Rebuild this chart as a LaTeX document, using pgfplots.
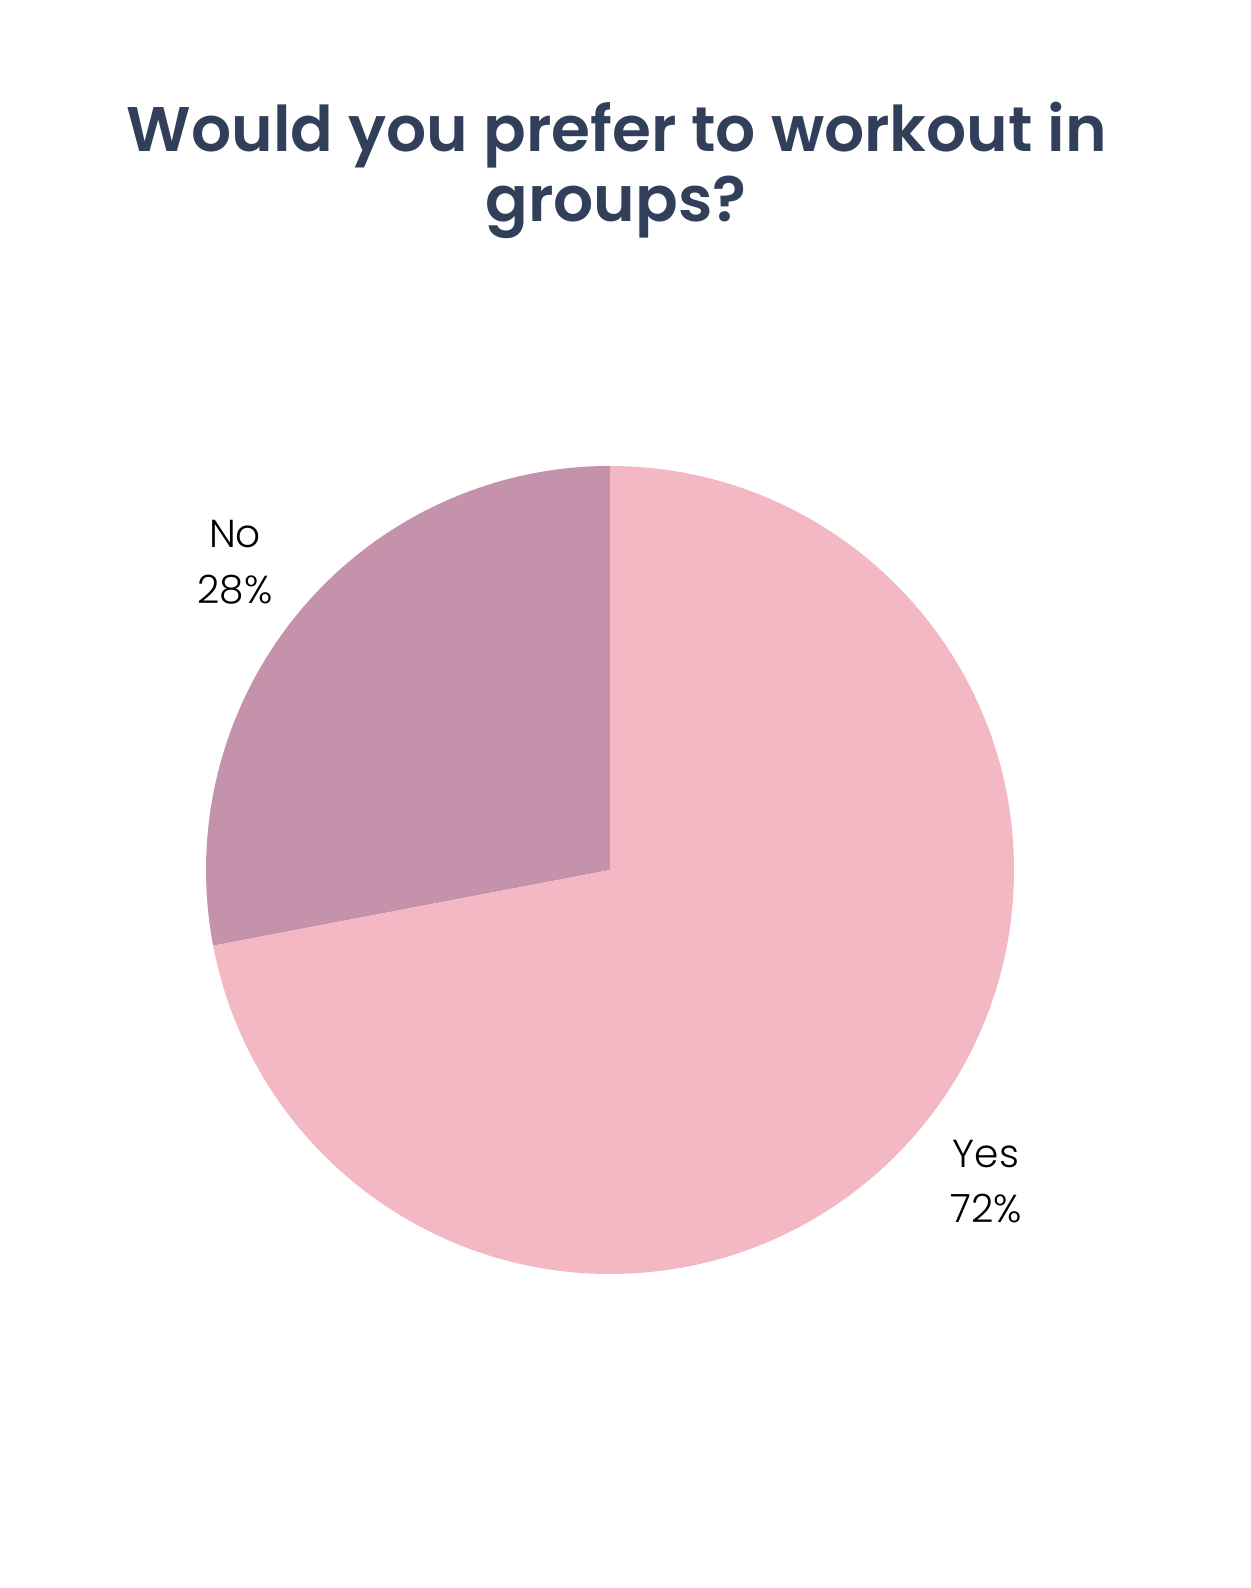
\documentclass[border=0pt]{standalone}
\usepackage{pgfplots}
\pgfplotsset{compat=1.18}
\usepackage{pgfplotstable}
\usepackage{fontspec}
\setmainfont{Poppins}
\newfontfamily\titlefont{Poppins SemiBold}
\newfontfamily\labelfont{Poppins Light}
\definecolor{yescol}{HTML}{F4B8C4}
\definecolor{nocol}{HTML}{C492AB}
\definecolor{titlecol}{HTML}{323F5A}
\pgfplotstableread{
label value
Yes 72
No 28
}\piedata
\begin{document}
\begin{tikzpicture}
\pgfplotstablegetelem{0}{value}\of\piedata \global\let\yesval\pgfplotsretval
\pgfplotstablegetelem{1}{value}\of\piedata \global\let\noval\pgfplotsretval
\pgfmathsetmacro\noend{90+3.6*\noval}
\pgfmathsetmacro\yesend{90-3.6*\yesval}
\begin{axis}[width=625pt,height=794pt,scale only axis,xmin=0,xmax=1250,ymin=0,ymax=1588,hide axis,clip=false]
\fill[white] (axis cs:0,0) rectangle (axis cs:1250,1588);
\fill[nocol] (axis cs:610,718) -- (axis cs:610,1122) arc[start angle=90,end angle=\noend,radius=202pt] -- cycle;
\fill[yescol] (axis cs:610,718) -- (axis cs:610,1122) arc[start angle=90,end angle=\yesend,radius=202pt] -- cycle;
\node[anchor=base,text=titlecol,font=\fontsize{31.5}{38}\titlefont] at (axis cs:617,1436) {Would you prefer to workout in};
\node[anchor=base,text=titlecol,font=\fontsize{31.5}{38}\titlefont] at (axis cs:616,1366) {groups?};
\node[anchor=base,font=\fontsize{19.5}{24}\labelfont] at (axis cs:235,1040) {No};
\node[anchor=base,font=\fontsize{19.5}{24}\labelfont] at (axis cs:235,984) {\noval\%};
\node[anchor=base,font=\fontsize{19.5}{24}\labelfont] at (axis cs:986,420) {Yes};
\node[anchor=base,font=\fontsize{19.5}{24}\labelfont] at (axis cs:986,365) {\yesval\%};
\end{axis}
\pgfresetboundingbox
\useasboundingbox (0,0) rectangle (625pt,794pt);
\end{tikzpicture}
\end{document}
